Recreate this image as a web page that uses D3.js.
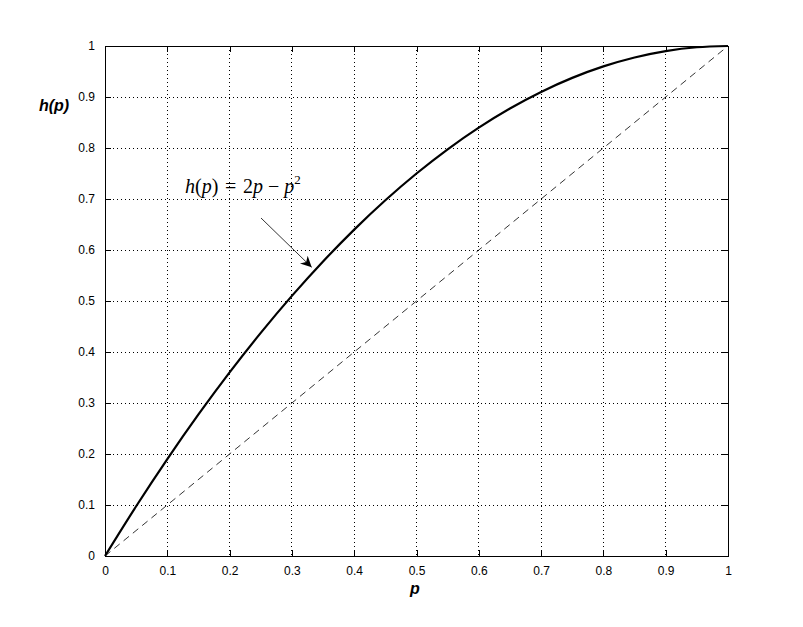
<!DOCTYPE html>
<html><head><meta charset="utf-8">
<script src="https://cdn.jsdelivr.net/npm/d3@7"></script>
<style>html,body{margin:0;padding:0;background:#fff;}svg{display:block;}</style>
</head><body>
<svg id="c" width="803" height="627"></svg>
<script>
const pValues = [0,0.05,0.1,0.15,0.2,0.25,0.3,0.35,0.4,0.45,0.5,0.55,0.6,0.65,0.7,0.75,0.8,0.85,0.9,0.95,1];
const hValues = [0,0.0975,0.19,0.2775,0.36,0.4375,0.51,0.5775,0.64,0.6975,0.75,0.7975,0.84,0.8775,0.91,0.9375,0.96,0.9775,0.99,0.9975,1];
const diagP = [0,1];
const diagH = [0,1];
const xTicks = [0,0.1,0.2,0.3,0.4,0.5,0.6,0.7,0.8,0.9,1];
const yTicks = [0,0.1,0.2,0.3,0.4,0.5,0.6,0.7,0.8,0.9,1];
const xLabel = "p";
const yLabel = "h(p)";
const annotation = {p:0.335, h:0.57};

const svg = d3.select("#c");
const L=105, R=728, T=46, B=556;
const x = d3.scaleLinear().domain([0,1]).range([L,R]);
const y = d3.scaleLinear().domain([0,1]).range([B,T]);
const fmt = d => String(d);

// grid
const g = svg.append("g");
g.selectAll(".gx").data(xTicks.slice(1,-1)).enter().append("line")
 .attr("x1",d=>x(d)).attr("x2",d=>x(d)).attr("y1",T).attr("y2",B)
 .attr("stroke","#000").attr("stroke-width",1).attr("stroke-dasharray","1,3").attr("shape-rendering","crispEdges");
g.selectAll(".gy").data(yTicks.slice(1,-1)).enter().append("line")
 .attr("y1",d=>y(d)).attr("y2",d=>y(d)).attr("x1",L).attr("x2",R)
 .attr("stroke","#000").attr("stroke-width",1).attr("stroke-dasharray","1,3").attr("shape-rendering","crispEdges");

// axes
const axB = d3.axisBottom(x).tickValues(xTicks).tickFormat(fmt).tickSizeInner(-6).tickSizeOuter(0).tickPadding(10);
const axL = d3.axisLeft(y).tickValues(yTicks).tickFormat(fmt).tickSizeInner(-6).tickSizeOuter(0).tickPadding(10);
const axT = d3.axisTop(x).tickValues(xTicks).tickFormat("").tickSizeInner(-6).tickSizeOuter(0);
const axR = d3.axisRight(y).tickValues(yTicks).tickFormat("").tickSizeInner(-6).tickSizeOuter(0);
[[axB,`translate(0,${B})`],[axL,`translate(${L},0)`],[axT,`translate(0,${T})`],[axR,`translate(${R},0)`]].forEach(([a,t])=>{
  const ga = svg.append("g").attr("transform",t).call(a);
  ga.select(".domain").remove();
  ga.selectAll("line").attr("stroke","#000").attr("shape-rendering","crispEdges");
  ga.selectAll("text").attr("font-family","Liberation Sans, Arial, sans-serif").attr("font-size",12).attr("fill","#000");
});
svg.append("rect").attr("x",L).attr("y",T).attr("width",R-L).attr("height",B-T)
 .attr("fill","none").attr("stroke","#000").attr("stroke-width",1).attr("shape-rendering","crispEdges");

// lines
svg.append("path").datum(diagP.map((p,i)=>[p,diagH[i]]))
 .attr("d",d3.line().x(d=>x(d[0])).y(d=>y(d[1])))
 .attr("fill","none").attr("stroke","#000").attr("stroke-width",0.8).attr("stroke-dasharray","7,5");
svg.append("path").datum(pValues.map((p,i)=>[p,hValues[i]]))
 .attr("d",d3.line().curve(d3.curveCatmullRom).x(d=>x(d[0])).y(d=>y(d[1])))
 .attr("fill","none").attr("stroke","#000").attr("stroke-width",2.2);

// labels
svg.append("text").attr("x",415).attr("y",594).attr("text-anchor","middle")
 .attr("font-family","Liberation Sans, Arial, sans-serif").attr("font-size",16).attr("font-weight","bold").attr("font-style","italic").text(xLabel);
svg.append("text").attr("x",54).attr("y",111).attr("text-anchor","middle")
 .attr("font-family","Liberation Sans, Arial, sans-serif").attr("font-size",16).attr("font-weight","bold").attr("font-style","italic").text(yLabel);

// annotation
const t = svg.append("text").attr("x",185).attr("y",193).attr("font-family","Liberation Serif, DejaVu Serif, serif").attr("font-size",20);
t.append("tspan").attr("font-style","italic").text("h");
t.append("tspan").text("(");
t.append("tspan").attr("font-style","italic").text("p");
t.append("tspan").text(")\u2004=\u20042");
t.append("tspan").attr("font-style","italic").text("p");
t.append("tspan").text("\u2005\u2212\u2005");
t.append("tspan").attr("font-style","italic").text("p");
t.append("tspan").attr("font-size",13).attr("dy",-9).text("2");

svg.append("defs").append("marker").attr("id","ah").attr("viewBox","0 0 10 10").attr("refX",10).attr("refY",5)
 .attr("markerWidth",16).attr("markerHeight",11).attr("markerUnits","userSpaceOnUse").attr("orient","auto")
 .append("path").attr("d","M0,0 L10,5 L0,10 L3,5 Z").attr("fill","#000");
svg.append("line").attr("x1",261).attr("y1",218).attr("x2",x(annotation.p)-2).attr("y2",y(annotation.h)+2)
 .attr("stroke","#000").attr("stroke-width",0.8).attr("marker-end","url(#ah)");
</script>
</body></html>
